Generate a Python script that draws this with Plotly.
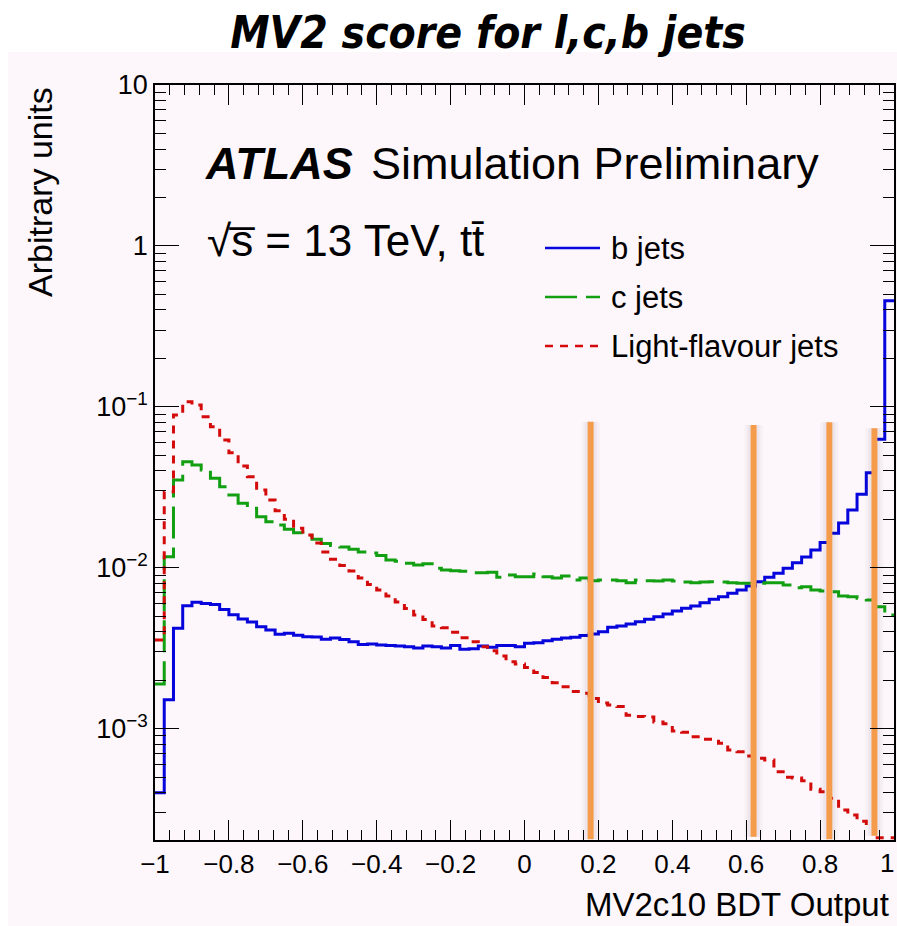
import numpy as np
import plotly.graph_objects as go

# ---- histogram contents: MV2c10 output, 80 bins in [-1, 1], normalised ----
bin_edges = np.linspace(-1.0, 1.0, 81)

b_jets = [
    0.00040, 0.00151, 0.0042, 0.0058, 0.0061, 0.0060, 0.0059, 0.0055, 0.0051, 0.0048,
    0.0046, 0.0043, 0.0041, 0.00386, 0.00391, 0.00380, 0.00372, 0.00371, 0.00359, 0.00366,
    0.00358, 0.00347, 0.00333, 0.00336, 0.00331, 0.00329, 0.00326, 0.00323, 0.00317, 0.00326,
    0.00323, 0.00317, 0.00329, 0.00311, 0.00314, 0.00326, 0.00320, 0.00329, 0.00329, 0.00323,
    0.00339, 0.00342, 0.00352, 0.00359, 0.00366, 0.00369, 0.00379, 0.00387, 0.00400, 0.00426,
    0.00434, 0.00447, 0.00462, 0.00478, 0.00496, 0.00516, 0.00538, 0.00559, 0.00578, 0.00606,
    0.00636, 0.00660, 0.00693, 0.00727, 0.00769, 0.00818, 0.00871, 0.00923, 0.00991, 0.01074,
    0.01165, 0.01288, 0.01434, 0.01636, 0.01896, 0.02284, 0.02859, 0.03895, 0.06281, 0.4564,
]

c_jets = [
    0.00189, 0.01171, 0.03509, 0.04558, 0.04348, 0.04047, 0.03592, 0.03187, 0.02830, 0.02512,
    0.02339, 0.02075, 0.01931, 0.01842, 0.01732, 0.01650, 0.01585, 0.01501, 0.01413, 0.01374,
    0.01345, 0.01303, 0.01252, 0.01234, 0.01191, 0.01117, 0.01096, 0.01065, 0.01039, 0.01060,
    0.00991, 0.00968, 0.00958, 0.00950, 0.00931, 0.00931, 0.00936, 0.00871, 0.00901, 0.00879,
    0.00879, 0.00914, 0.00879, 0.00863, 0.00888, 0.00839, 0.00863, 0.00829, 0.00839, 0.00839,
    0.00830, 0.00807, 0.00839, 0.00830, 0.00827, 0.00839, 0.00827, 0.00815, 0.00807, 0.00815,
    0.00818, 0.00815, 0.00807, 0.00800, 0.00800, 0.00800, 0.00807, 0.00807, 0.00781, 0.00751,
    0.00762, 0.00727, 0.00716, 0.00709, 0.00667, 0.00660, 0.00645, 0.00630, 0.00572, 0.00508,
]

light_jets = [
    0.00355, 0.02967, 0.08892, 0.10757, 0.10261, 0.08679, 0.07521, 0.06218, 0.05186, 0.04286,
    0.03678, 0.03041, 0.02635, 0.02261, 0.01999, 0.01758, 0.01597, 0.01424, 0.01252, 0.01128,
    0.01032, 0.00954, 0.00863, 0.00786, 0.00727, 0.00667, 0.00612, 0.00558, 0.00508, 0.00476,
    0.00434, 0.00424, 0.00397, 0.00367, 0.00347, 0.00323, 0.00305, 0.00283, 0.00260, 0.00252,
    0.00240, 0.00223, 0.00208, 0.00193, 0.00182, 0.00170, 0.00166, 0.00154, 0.00144, 0.00140,
    0.00137, 0.00121, 0.00119, 0.00118, 0.00110, 0.00107, 0.000966, 0.000948, 0.000891, 0.000858,
    0.000858, 0.000810, 0.000736, 0.000718, 0.000675, 0.000654, 0.000638, 0.000540, 0.000498, 0.000493,
    0.000474, 0.000420, 0.000405, 0.000369, 0.000312, 0.000290, 0.000266, 0.000248, 0.00021, 0.00021,
]

# working-point cut markers (x position, top of marker, bottom of marker)
cut_x = [0.179, 0.620, 0.825, 0.947]
cut_top = [0.0808, 0.0771, 0.0801, 0.0735]
cut_bottom = [0.000205, 0.000213, 0.000205, 0.000216]

x_tickvals = [-1, -0.8, -0.6, -0.4, -0.2, 0, 0.2, 0.4, 0.6, 0.8, 1]
# the label of the last tick is placed separately so it stays inside the page
x_ticktext = ["\u22121", "\u22120.8", "\u22120.6", "\u22120.4", "\u22120.2", "0",
              "0.2", "0.4", "0.6", "0.8", ""]
x_last_label = "1"
y_tickvals = [1e-3, 1e-2, 1e-1, 1, 10]
y_ticktext = ["10<sup>\u22123</sup>", "10<sup>\u22122</sup>", "10<sup>\u22121</sup>", "1", "10"]

series_names = ["b jets", "c jets", "Light-flavour jets"]
series_colors = ["#0505dc", "#12a012", "#d40b0b"]
series_dash = ["solid", "32px,9px", "8px,7px"]

# ---- page geometry (pixels) ----
W, H = 897, 926
PL, PR, PT, PB = 155, 894, 85, 840


def paper_x(px):
    return (px - PL) / (PR - PL)


def paper_y(py):
    return (PB - py) / (PB - PT)


FONT = "Liberation Sans, Arial, Helvetica, sans-serif"
PINK = "#fdf6fb"

fig = go.Figure()

# histograms drawn as steps: one point per bin edge, last content repeated
for vals, name, col, dash in zip([b_jets, c_jets, light_jets], series_names, series_colors, series_dash):
    fig.add_trace(go.Scatter(
        x=bin_edges, y=list(vals) + [vals[-1]],
        mode="lines", line=dict(shape="hv", color=col, width=3, dash=dash),
        name=name, showlegend=False, hoverinfo="skip",
    ))

# cut markers with a soft shadow
for cx, top, bot in zip(cut_x, cut_top, cut_bottom):
    for w, a in [(18, 0.03), (12, 0.045)]:
        fig.add_trace(go.Scatter(
            x=[cx, cx], y=[bot, top], mode="lines",
            line=dict(color=f"rgba(40,30,40,{a})", width=w),
            showlegend=False, hoverinfo="skip",
        ))
    fig.add_trace(go.Scatter(
        x=[cx, cx], y=[bot, top], mode="lines",
        line=dict(color="#f59b4c", width=6),
        showlegend=False, hoverinfo="skip",
    ))

shapes = [
    dict(type="rect", xref="paper", yref="paper",
         x0=paper_x(8), x1=paper_x(W + 5), y0=paper_y(H + 5), y1=paper_y(52),
         fillcolor=PINK, line=dict(width=0), layer="below"),
]

annotations = []

# legend block
leg_y = [248, 297, 346]
for name, col, dash, yy in zip(series_names, series_colors, series_dash, leg_y):
    shapes.append(dict(type="line", xref="paper", yref="paper",
                       x0=paper_x(545), x1=paper_x(600), y0=paper_y(yy), y1=paper_y(yy),
                       line=dict(color=col, width=2.5, dash=dash)))
    annotations.append(dict(xref="paper", yref="paper", x=paper_x(609), y=paper_y(yy),
                            xanchor="left", yanchor="middle", showarrow=False,
                            text=name, font=dict(family=FONT, size=31, color="black")))

# experiment labels
annotations += [
    dict(xref="paper", yref="paper", x=paper_x(203), y=paper_y(163),
         xanchor="left", yanchor="middle", showarrow=False,
         text="<b><i>ATLAS</i></b>", font=dict(family=FONT, size=45, color="black")),
    dict(xref="paper", yref="paper", x=paper_x(369), y=paper_y(163),
         xanchor="left", yanchor="middle", showarrow=False,
         text="Simulation Preliminary", font=dict(family=FONT, size=45, color="black")),
    dict(xref="paper", yref="paper", x=paper_x(205), y=paper_y(240),
         xanchor="left", yanchor="middle", showarrow=False,
         text="\u221as\u0305 = 13 TeV, tt\u0304", font=dict(family=FONT, size=44, color="black")),
    # label of the x = 1 tick, kept flush with the page edge
    dict(xref="x", yref="paper", x=x_tickvals[-1], y=0, yshift=-6,
         xanchor="right", yanchor="top", showarrow=False, xshift=2,
         text=x_last_label, font=dict(family=FONT, size=26, color="black")),
    # axis titles (ROOT style: aligned to the far end of each axis)
    dict(xref="paper", yref="paper", x=paper_x(891), y=paper_y(925),
         xanchor="right", yanchor="bottom", showarrow=False,
         text="MV2c10 BDT Output", font=dict(family=FONT, size=33, color="black")),
    dict(xref="paper", yref="paper", x=paper_x(40), y=paper_y(85),
         xanchor="center", yanchor="top", showarrow=False, textangle=-90,
         text="Arbitrary units", font=dict(family=FONT, size=34, color="black")),
]

fig.update_layout(
    width=W, height=H,
    margin=dict(l=PL, r=W - PR, t=PT, b=H - PB, pad=0, autoexpand=False),
    paper_bgcolor="white",
    plot_bgcolor="rgba(0,0,0,0)",
    title=dict(text="MV2 score for l,c,b jets", x=488 / W, y=1 - 33 / H,
               xanchor="center", yanchor="middle", automargin=False,
               font=dict(family="Liberation Sans Narrow, DejaVu Sans Condensed, Arial, sans-serif",
                         size=44, color="black", weight="bold", style="italic")),
    shapes=shapes,
    annotations=annotations,
    showlegend=False,
)

fig.update_xaxes(
    range=[-1, 1], tickmode="array", tickvals=x_tickvals, ticktext=x_ticktext, automargin=False,
    ticks="inside", ticklen=20, tickwidth=1.3, tickcolor="black",
    minor=dict(ticks="inside", ticklen=10, tickwidth=1.3, tickcolor="black", dtick=0.04, tick0=-1, showgrid=False),
    showline=True, linecolor="black", linewidth=1.5, mirror="allticks",
    showgrid=False, zeroline=False, ticklabeloverflow="allow",
    tickfont=dict(family=FONT, size=26, color="black"),
)

minor_vals = [m * 10.0 ** e for e in range(-4, 1) for m in range(2, 10)]
fig.update_yaxes(
    type="log", range=[1 - (PB - PT) / 160.9, 1], automargin=False,
    tickmode="array", tickvals=y_tickvals, ticktext=y_ticktext,
    ticks="inside", ticklen=24, tickwidth=1.3, tickcolor="black",
    minor=dict(ticks="inside", ticklen=11, tickwidth=1.3, tickcolor="black",
               tickmode="array", tickvals=minor_vals, showgrid=False),
    showline=True, linecolor="black", linewidth=1.5, mirror="allticks",
    showgrid=False, zeroline=False, ticklabeloverflow="allow",
    tickfont=dict(family=FONT, size=27, color="black"),
)

fig.write_html("out.html")
